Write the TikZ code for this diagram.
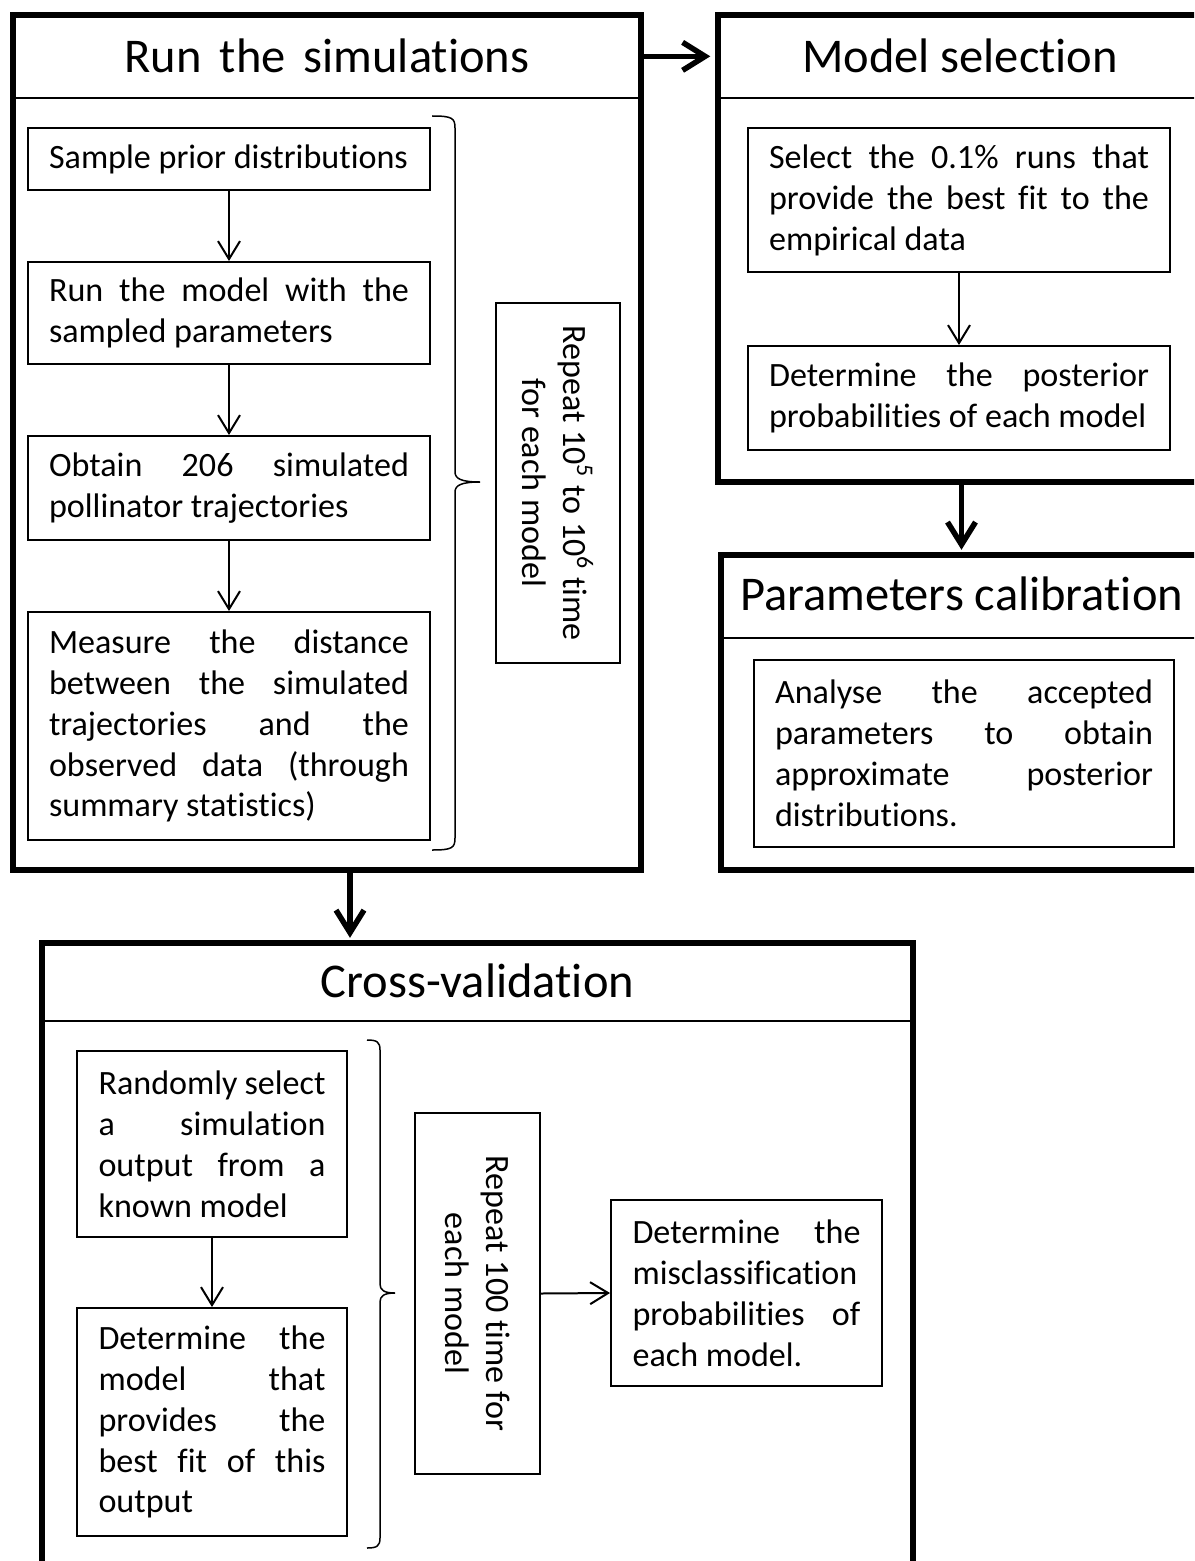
\documentclass[tikz,border=0pt]{standalone}
\usepackage{fontspec}
\setmainfont{Carlito}[Ligatures={NoCommon,NoContextual,NoRare}, Contextuals=NoAlternate]
\usepackage{xcolor}
\usepackage{tikz}
\usetikzlibrary{arrows.meta, positioning, calc}

\begin{document}
\begin{tikzpicture}[x=0.02cm, y=-0.02cm,
    framebox/.style={draw, line width=0.11cm, inner sep=0pt},
    sepline/.style={line width=0.04cm},
    headline/.style={anchor=base, inner sep=0pt, font=\fontsize{27.6}{33}\selectfont},
    stepbox/.style={draw, line width=0.04cm, text width=#1, align=justify, inner xsep=0.43cm, inner ysep=0pt, font=\fontsize{19.4}{23.3}\selectfont},
    repeatbox/.style={draw, line width=0.04cm, rotate=-90, align=center, inner sep=0pt, font=\fontsize{19.4}{23.3}\selectfont},
    bracket/.style={line width=0.03cm},
    thinarrow/.style={-{Straight Barb[length=0.36cm, width=0.44cm]}, line width=0.04cm},
    thickarrow/.style={-{Straight Barb[length=0.45cm, width=0.56cm]}, line width=0.11cm}]
    \useasboundingbox (0,0) rectangle (1194,1561);
    \clip (0,0) rectangle (1194,1561);

    % the four frames
    \node[framebox, minimum width=12.56cm, minimum height=17.1cm] (sim) at (327,442.5) {};
    \node[framebox, minimum width=9.68cm, minimum height=9.34cm] (model) at (960,248.5) {};
    \node[framebox, minimum width=9.62cm, minimum height=6.3cm] (calib) at (961.5,712.5) {};
    \node[framebox, minimum width=17.42cm, minimum height=12.54cm] (cross) at (477.5,1256.5) {};

    \draw[sepline] (sim.west |- 0,98) -- (sim.east |- 0,98);
    \draw[sepline] (model.west |- 0,98) -- (model.east |- 0,98);
    \draw[sepline] (calib.west |- 0,638) -- (calib.east |- 0,638);
    \draw[sepline] (cross.west |- 0,1021) -- (cross.east |- 0,1021);

    \node[headline] (simT) at (sim.center |- 0,73) {Run\hspace{0.36cm}the\hspace{0.36cm}simulations};
    \node[headline] (modelT) at (model.center |- 0,73) {Model selection};
    \node[headline] (calibT) at (calib.center |- 0,610) {Parameters calibration};
    \node[headline] (crossT) at (cross.center |- 0,997) {Cross-validation};

    % simulations
    \node[stepbox=7.2cm, minimum height=1.24cm] (sample) at (229,159) {Sample prior distributions};
    \node[stepbox=7.2cm, minimum height=2.04cm] (runmod) at (229,313) {Run the model with the\linebreak sampled parameters};
    \node[stepbox=7.2cm, minimum height=2.08cm] (obtain) at (229,488) {Obtain 206 simulated\linebreak pollinator trajectories};
    \node[stepbox=7.2cm, minimum height=4.56cm] (measure) at (229,726) {Measure the distance\linebreak between the simulated\linebreak trajectories and the\linebreak observed data (through\linebreak summary statistics)};
    \draw[thinarrow] (sample) -- (runmod);
    \draw[thinarrow] (runmod) -- (obtain);
    \draw[thinarrow] (obtain) -- (measure);
    \coordinate (b1top) at (432,116);
    \coordinate (b1tip) at (480,482);
    \coordinate (b1bot) at (432,850);
    \draw[bracket] (b1top) .. controls (452,116) and (455,118) .. (455,128) -- (455,472)
        .. controls (455,479) and (462,482) .. (b1tip)
        .. controls (462,482) and (455,485) .. (455,492) -- (455,838)
        .. controls (455,848) and (452,850) .. (b1bot);
    \node[repeatbox, minimum width=7.2cm, minimum height=2.48cm] (rep1) at (558,483) {Repeat 10\textsuperscript{5} to 10\textsuperscript{6} time\\for each model};

    % model selection
    \node[stepbox=7.6cm, minimum height=2.88cm] (select) at (959,200) {Select the 0.1\% runs that\linebreak provide the best fit to the\linebreak empirical data};
    \node[stepbox=7.6cm, minimum height=2.08cm] (detpost) at (959,398) {Determine the posterior\linebreak probabilities of each model};
    \draw[thinarrow] (select) -- (detpost);

    % calibration
    \node[stepbox=7.56cm, minimum height=3.74cm] (analyse) at (964,753.5) {Analyse the accepted\linebreak parameters to obtain\linebreak approximate posterior\linebreak distributions.};

    % cross-validation
    \node[stepbox=4.54cm, minimum height=3.72cm] (randsel) at (212,1144) {Randomly select\linebreak a simulation\linebreak output from a\linebreak known model};
    \node[stepbox=4.54cm, minimum height=4.56cm] (detmod) at (212,1422) {Determine the\linebreak model that\linebreak provides the\linebreak best fit of this\linebreak output};
    \draw[thinarrow] (randsel) -- (detmod);
    \coordinate (b2top) at (367,1040);
    \coordinate (b2tip) at (395,1293);
    \coordinate (b2bot) at (367,1548);
    \draw[bracket] (b2top) .. controls (377,1040) and (380,1042) .. (380,1050) -- (380,1284)
        .. controls (380,1290) and (384,1293) .. (b2tip)
        .. controls (384,1293) and (380,1296) .. (380,1302) -- (380,1538)
        .. controls (380,1546) and (377,1548) .. (b2bot);
    \node[repeatbox, minimum width=7.22cm, minimum height=2.5cm] (rep2) at (477.5,1293.5) {Repeat 100 time for\\each model};
    \node[stepbox=4.56cm, minimum height=3.72cm] (miscl) at (746.5,1293) {Determine the\linebreak misclassification\linebreak probabilities of\linebreak each model.};
    \draw[thinarrow] (rep2.north) -- (miscl.west);

    % links between frames
    \draw[thickarrow, shorten >=0.1cm] (sim.east |- simT) -- (model.west |- simT);
    \draw[thickarrow, shorten >=0.05cm] (calib.north |- model.south) -- (calib.north);
    \coordinate (drop) at (350,0);
    \draw[thickarrow, shorten >=0.05cm] (drop |- sim.south) -- (drop |- cross.north);
\end{tikzpicture}
\end{document}
